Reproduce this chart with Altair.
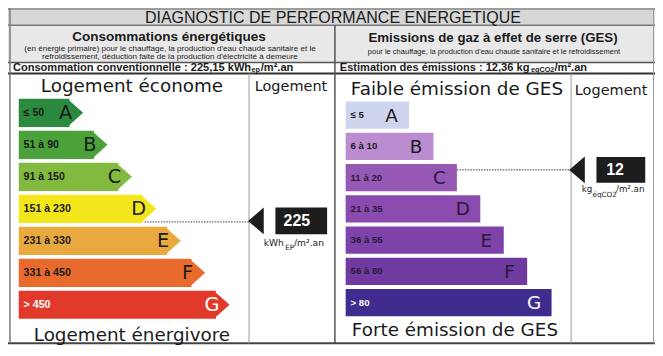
import altair as alt
import pandas as pd

# ---------------- data ----------------
classes = ["A", "B", "C", "D", "E", "F", "G"]
energy_ranges = ["≤ 50", "51 à 90", "91 à 150", "151 à 230", "231 à 330", "331 à 450", "> 450"]
ges_ranges = ["≤ 5", "6 à 10", "11 à 20", "21 à 35", "36 à 55", "56 à 80", "> 80"]
# right end (arrow tip) of every class bar, in reference pixels
energy_bar_end = [77, 102, 127, 152, 177, 202, 227]
ges_bar_end = [411, 436, 460, 484, 508, 532, 557]
energy_colors = ["#2b8a3d", "#4ba23a", "#82ba3f", "#f3e71c", "#e9a93e", "#e86b2d", "#e13a2a"]
ges_colors = ["#d0d5ef", "#bb8dd0", "#9658b5", "#8a4bae", "#7e42a8", "#703ba0", "#3f2c8e"]
energy_text_colors = ["#1a1a1a"] * 6 + ["#ffffff"]
ges_text_colors = ["#1a1a1a", "#1a1a1a", "#2a1838", "#2a1838", "#2a1838", "#2a1838", "#ffffff"]
energy_value = "225"
energy_value_exact = "225,15"
energy_class = "D"
ges_value = "12"
ges_value_exact = "12,36"
ges_class = "C"

# ---------------- layout (reference pixel units) ----------------
W, H = 663, 356
PW, PH = 647, 340
FS = 0.965
E_TOP0, E_PITCH, E_H = 95, 33.5, 29.5
G_TOP0, G_PITCH, G_H = 98, 32.7, 28.5
E_LEFT, G_LEFT, TIP = 11, 346, 14
E_MARK = dict(tip=260, x=274, x2=327, y=209, y2=237)
G_MARK = dict(tip=589, x=603, x2=653, y=156, y2=183)

xs = alt.Scale(domain=[0, W], nice=False, zero=False)
ys = alt.Scale(domain=[0, H], nice=False, zero=False, reverse=True)


def X(f):
    return alt.X(f, type="quantitative", scale=xs, axis=None)


def Y(f):
    return alt.Y(f, type="quantitative", scale=ys, axis=None)


# class rows
e_rows, g_rows = [], []
for i, c in enumerate(classes):
    t = E_TOP0 + i * E_PITCH
    e_rows.append(dict(cls=c, rng=energy_ranges[i], fill=energy_colors[i], tcol=energy_text_colors[i],
                       x=E_LEFT, x2=energy_bar_end[i] - TIP, y=t, y2=t + E_H, yc=t + E_H / 2,
                       tip=energy_bar_end[i] - TIP, lx=energy_bar_end[i] - 18))
    t = G_TOP0 + i * G_PITCH
    g_rows.append(dict(cls=c, rng=ges_ranges[i], fill=ges_colors[i], tcol=ges_text_colors[i],
                       x=G_LEFT, x2=ges_bar_end[i], y=t, y2=t + G_H, yc=t + G_H / 2,
                       lx=ges_bar_end[i] - 18))
edf = pd.DataFrame(e_rows)
gdf = pd.DataFrame(g_rows)

# frame
bg = pd.DataFrame([
    dict(x=0, x2=W, y=0, y2=18, fill="#d7d7d7"),
    dict(x=0, x2=W, y=18, y2=57, fill="#e8e8e8"),
    dict(x=0, x2=W, y=57, y2=351, fill="#ffffff"),
])
lines = pd.DataFrame([
    dict(x=0, x2=W, y=1, y2=1, c="#8a8a8a", w=1.5),
    dict(x=0, x2=W, y=18, y2=18, c="#7a7a7a", w=1.5),
    dict(x=0, x2=W, y=57, y2=57, c="#555555", w=1.5),
    dict(x=0, x2=W, y=68.5, y2=68.5, c="#333333", w=2),
    dict(x=0, x2=W, y=351, y2=351, c="#444444", w=2),
    dict(x=2, x2=2, y=0, y2=351, c="#7a7a7a", w=1.5),
    dict(x=661.5, x2=661.5, y=0, y2=351, c="#9a9a9a", w=1),
    dict(x=335, x2=335, y=18, y2=351, c="#555555", w=1.5),
    dict(x=247, x2=247, y=68.5, y2=351, c="#9a9a9a", w=1),
    dict(x=577, x2=577, y=68.5, y2=351, c="#9a9a9a", w=1),
])

e_idx = classes.index(energy_class)
g_idx = classes.index(ges_class)
dots = pd.DataFrame([
    dict(x=energy_bar_end[e_idx] - 12, x2=E_MARK["tip"], y=(E_MARK["y"] + E_MARK["y2"]) / 2 + 1),
    dict(x=ges_bar_end[g_idx], x2=G_MARK["tip"], y=(G_MARK["y"] + G_MARK["y2"]) / 2),
])
dots["y2"] = dots["y"]
marks = pd.DataFrame([E_MARK, G_MARK])
marks["yc"] = (marks["y"] + marks["y2"]) / 2

# texts
AR, DV = "Liberation Sans, Arial, sans-serif", "DejaVu Sans, Verdana, sans-serif"
T = []


def txt(x, y, s, size, font=AR, weight="normal", align="center", color="#1a1a1a"):
    T.append(dict(x=x, y=y, t=s, size=size * FS, font=font, weight=weight, align=align, c=color))


txt(333, 10, "DIAGNOSTIC DE PERFORMANCE ENERGETIQUE", 16.6)
txt(165, 30, "Consommations énergétiques", 14, weight="bold")
txt(166, 42.5, "(en énergie primaire) pour le chauffage, la production d'eau chaude sanitaire et le", 8.4)
txt(166, 51.5, "refroidissement, déduction faite de la production d'électricité à demeure", 8.4)
txt(497, 31, "Emissions de gaz à effet de serre (GES)", 13.7, weight="bold")
txt(498, 46, "pour le chauffage, la production d'eau chaude sanitaire et le refroidissement", 7.8)
txt(5, 62.5, "Consommation conventionnelle : " + energy_value_exact + " kWh", 11.5, weight="bold", align="left")
txt(249.5, 64.5, "ep", 7.5, weight="bold", align="left")
txt(259, 62.5, "/m².an", 11.5, weight="bold", align="left")
txt(340, 62.5, "Estimation des émissions : " + ges_value_exact + " kg", 11.5, weight="bold", align="left")
txt(536, 64.5, "eqCO2", 7.5, weight="bold", align="left")
txt(560, 62.5, "/m².an", 11.5, weight="bold", align="left")

txt(127, 82, "Logement économe", 19, font=DV)
txt(290, 83, "Logement", 15, font=DV)
txt(127, 342, "Logement énergivore", 19, font=DV)
txt(460, 85, "Faible émission de GES", 19, font=DV)
txt(618, 87, "Logement", 15, font=DV)
txt(458, 337, "Forte émission de GES", 19, font=DV)

for r in e_rows:
    txt(16, r["yc"], r["rng"], 11, weight="bold", align="left", color=r["tcol"])
    txt(r["lx"], r["yc"] + 0.5, r["cls"], 20, font=DV, color=r["tcol"])
for r in g_rows:
    txt(351, r["yc"], r["rng"], 10, weight="bold", align="left", color=r["tcol"])
    txt(r["lx"], r["yc"] + 0.5, r["cls"], 19, font=DV, color=r["tcol"])

txt(296, (E_MARK["y"] + E_MARK["y2"]) / 2, energy_value, 16.5, weight="bold", color="#ffffff")
txt(622, (G_MARK["y"] + G_MARK["y2"]) / 2, ges_value, 16.5, weight="bold", color="#ffffff")
txt(262, 246, "kWh", 9.5, font=DV, align="left", color="#222222")
txt(284, 251, "EP", 7.5, font=DV, align="left", color="#222222")
txt(293, 246, "/m².an", 9.5, font=DV, align="left", color="#222222")
txt(588, 190, "kg", 9, font=DV, align="left", color="#222222")
txt(599, 195.5, "éqCO2", 7.5, font=DV, align="left", color="#222222")
txt(623, 190, "/m².an", 9, font=DV, align="left", color="#222222")
tdf = pd.DataFrame(T)

# ---------------- chart ----------------
rect_enc = dict(x=X("x"), x2="x2", y=Y("y"), y2="y2", color=alt.Color("fill:N", scale=None))
layers = [
    alt.Chart(bg).mark_rect(strokeWidth=0).encode(**rect_enc),
    alt.Chart(lines).mark_rule().encode(x=X("x"), x2="x2", y=Y("y"), y2="y2",
                                         color=alt.Color("c:N", scale=None),
                                         strokeWidth=alt.StrokeWidth("w:Q", scale=None)),
    alt.Chart(edf).mark_rect(strokeWidth=0).encode(**rect_enc),
    alt.Chart(edf).mark_point(shape="M-0.15,-1L0.97,0L-0.15,1Z", filled=True, opacity=1,
                              strokeWidth=0, size=(E_H * PH / H) ** 2).encode(
        x=X("tip"), y=Y("yc"), color=alt.Color("fill:N", scale=None)),
    alt.Chart(gdf).mark_rect(strokeWidth=0).encode(**rect_enc),
    alt.Chart(dots).mark_rule(strokeDash=[1.5, 1.2], color="#3a3a3a", strokeWidth=1).encode(
        x=X("x"), x2="x2", y=Y("y"), y2="y2"),
    alt.Chart(marks).mark_rect(strokeWidth=0, color="#1d1d1d").encode(
        x=X("x"), x2="x2", y=Y("y"), y2="y2"),
    alt.Chart(marks).mark_point(shape="M0.15,-1L-1.02,0L0.15,1Z", filled=True, opacity=1,
                                strokeWidth=0, color="#1d1d1d",
                                size=(28 * PH / H) ** 2).encode(x=X("tip"), y=Y("yc")),
]
for (font, weight, align), g in tdf.groupby(["font", "weight", "align"]):
    layers.append(
        alt.Chart(g).mark_text(font=font, fontWeight=weight, align=align, baseline="middle").encode(
            x=X("x"), y=Y("y"), text="t:N",
            size=alt.Size("size:Q", scale=None),
            color=alt.Color("c:N", scale=None))
    )

chart = alt.layer(*layers).properties(
    width=PW, height=PH, padding=0, autosize=alt.AutoSizeParams(type="none"),
    background="#ffffff",
).configure_view(stroke=None)

chart.save("out.html", embed_options={"renderer": "svg", "actions": False})
